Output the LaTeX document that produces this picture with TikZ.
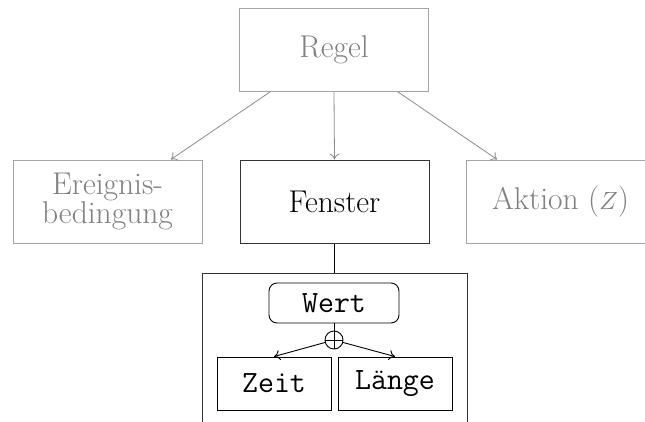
\documentclass[tikz,border=0pt]{standalone}
\usetikzlibrary{calc,arrows.meta}
\definecolor{boxgray}{RGB}{165,165,165}
\definecolor{txtgray}{RGB}{128,128,128}
\definecolor{arrgray}{RGB}{140,140,140}
\newcommand\rmtext{\fontsize{31.5}{29}\selectfont}
\newcommand\tttext{\ttfamily\fontsize{31}{31}\selectfont}
\begin{document}
\begin{tikzpicture}[x=1pt,y=-1pt,
  softbox/.style={draw=boxgray, line width=1pt, text=txtgray,
    minimum width=189pt, minimum height=83pt, inner sep=0pt,
    font=\rmtext, align=center},
  mainbox/.style={softbox, draw=black!80, text=black},
  valbox/.style={draw=black, line width=0.9pt, inner sep=0pt,
    font=\tttext, minimum height=53pt, minimum width=114pt},
  softarrow/.style={draw=arrgray, line width=0.8pt,
    -{To[length=6pt,width=10pt]}},
  hardarrow/.style={draw=black, line width=0.9pt,
    -{To[length=6pt,width=10pt]}},
]
\useasboundingbox (0,0) rectangle (645,421);
\clip (0,0) rectangle (645,421);

% top level
\node[softbox] (regel) at (334,49.5) {Regel};
\node[softbox] (ereignis) at (107.5,201.5) {Ereignis-\\bedingung};
\node[mainbox] (fenster) at (334.5,201.5) {Fenster};
\node[softbox] (aktion) at (560.5,201.5) {Aktion ($Z$)};

\draw[softarrow] ($(regel.south west)!1/6!(regel.south east)$)
  -- ($(ereignis.north west)!5/6!(ereignis.north east)$);
\draw[softarrow] (regel.south) -- (fenster.north);
\draw[softarrow] ($(regel.south west)!5/6!(regel.south east)$)
  -- ($(aktion.north west)!1/6!(aktion.north east)$);

% window detail frame, open at the bottom
\coordinate (frameL) at (202,273);
\coordinate (frameR) at (467,273);
\coordinate (frameT) at (334.5,273);
\draw[black!80, line width=1pt] (202,440) -- (frameL) -- (frameR) -- (467,440);
\draw[black, line width=0.8pt] (fenster.south) -- (frameT);

% value with its two alternatives
\node[valbox, rounded corners=8pt, minimum width=130pt, minimum height=40pt]
  (wert) at (334,303) {Wert};
\node[draw, circle, line width=0.9pt, minimum size=18pt, inner sep=0pt]
  (op) at (334,340) {};
\draw[line width=0.9pt] (op.north) -- (op.south) (op.west) -- (op.east);
\draw[black, line width=0.8pt] (wert.south) -- (op.north);

\node[valbox] (zeit) at (274,383.5) {Zeit};
\node[valbox] (laenge) at (395,383.5) {Länge};

\draw[hardarrow] (op) -- (zeit.north);
\draw[hardarrow] (op) -- (laenge.north);
\end{tikzpicture}
\end{document}
